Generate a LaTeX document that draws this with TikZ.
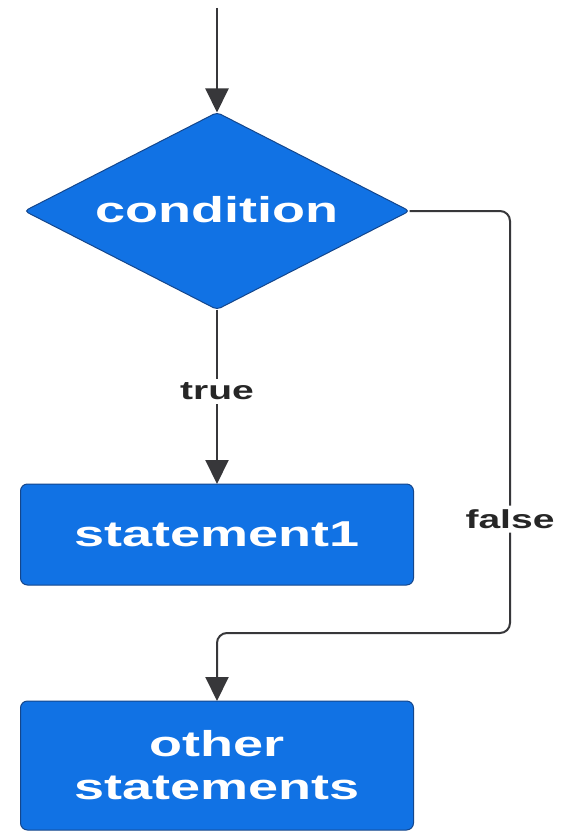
\documentclass[tikz,border=0pt]{standalone}
\usepackage{fontspec}
\setmainfont{Liberation Sans}
\usepackage{graphicx}
\usetikzlibrary{shapes.geometric,arrows.meta}
\definecolor{boxblue}{RGB}{17,114,228}
\definecolor{boxedge}{RGB}{20,70,140}
\definecolor{wire}{RGB}{55,55,58}
% wide lettering used throughout the chart
\newcommand\widetext[1]{\scalebox{1.5}[1]{#1}}
\begin{document}
\begin{tikzpicture}[x=1pt,y=1pt,
  block/.style={draw=boxedge, line width=1pt, fill=boxblue, rounded corners=7pt,
    minimum width=393pt, inner sep=0pt, outer sep=0pt, text=white,
    font=\fontsize{36}{43}\selectfont\bfseries, align=center},
  decision/.style={diamond, shape aspect=1.95, draw=boxedge, line width=1pt,
    fill=boxblue, rounded corners=4pt, minimum width=385pt, minimum height=197pt,
    inner sep=0pt, outer sep=0pt, text=white,
    font=\fontsize{36}{43}\selectfont\bfseries},
  flow/.style={draw=wire, line width=2pt, -{Triangle[length=24pt,width=23pt]}},
  tag/.style={fill=white, text=black!85,
    font=\fontsize{26}{30}\selectfont\bfseries, inner sep=4pt}]
\useasboundingbox (0,0) rectangle (566,-832);
\fill[white] (0,0) rectangle (566,-832);

\coordinate (start) at (217,-8);
\node[decision] (cond) at (217,-211) {\raisebox{4pt}{\widetext{condition}}};
\node[block, minimum height=101pt] (s1) at (217,-534.5) {\widetext{statement1}};
\node[block, minimum height=129pt] (other) at (217,-765.5)
  {\widetext{other}\\\widetext{statements}};

\draw[flow] (start) -- (cond.north);
\draw[flow] (cond.south) -- node[tag, pos=0.47] {\widetext{true}} (s1.north);
\draw[flow, rounded corners=10pt] (cond.east) -- (510,-211)
  -- node[tag, pos=0.73] {\widetext{false}} (510,-633)
  -- (217,-633) -- (other.north);
\end{tikzpicture}
\end{document}
